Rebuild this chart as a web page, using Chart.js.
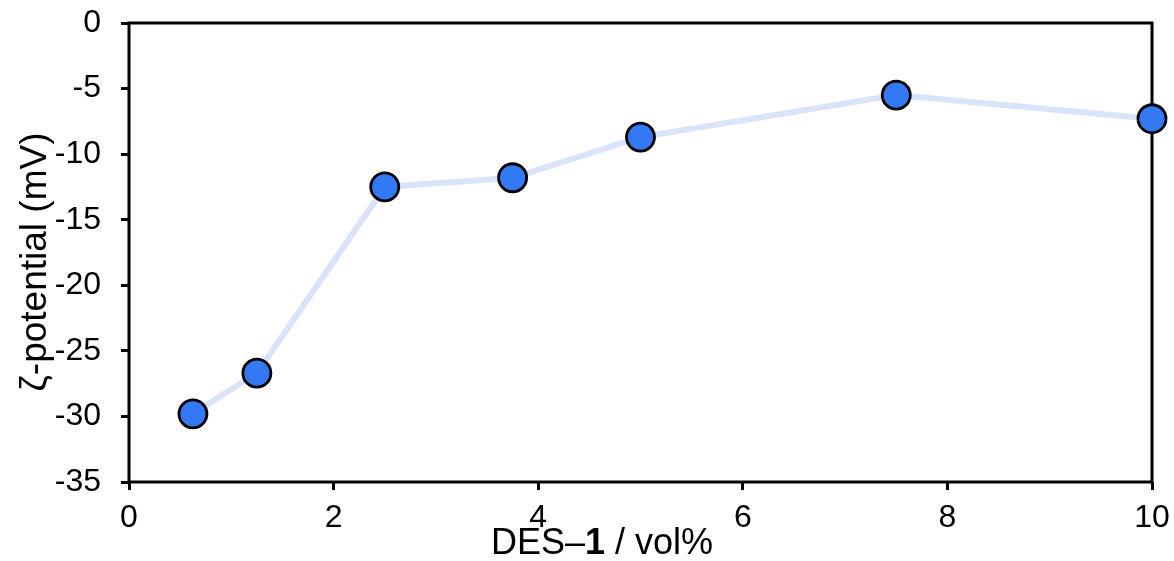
<!DOCTYPE html>
<html lang="en">
<head>
    <meta charset="UTF-8">
    <title>zeta potential vs DES-1</title>
    <script src="https://cdn.jsdelivr.net/npm/chart.js"></script>
    <style>
        html, body {
            margin: 0;
            padding: 0;
            background: #fff;
        }
        .wrap {
            width: 1174px;
            height: 561px;
        }
    </style>
</head>
<body>
    <div class="wrap">
        <canvas id="zetaChart" width="1174" height="561"></canvas>
    </div>

    <script>
        // data
        const desVol = [0.625, 1.25, 2.5, 3.75, 5, 7.5, 10];
        const zetaMv = [-29.8, -26.7, -12.5, -11.8, -8.7, -5.5, -7.3];
        const xTicks = [0, 2, 4, 6, 8, 10];
        const yTicks = [0, -5, -10, -15, -20, -25, -30, -35];

        const points = desVol.map((x, i) => ({ x: x, y: zetaMv[i] }));
        const FONT = '"Liberation Sans", Arial, sans-serif';

        // stop chart.js from adding room for the edge tick labels
        function noEdgePadding(scale) {
            scale.paddingTop = 0;
            scale.paddingBottom = 0;
            scale.paddingLeft = 0;
            scale.paddingRight = 0;
        }

        // box around plot + axis titles (x title has a bold "1")
        const framePlugin = {
            id: 'frame',
            beforeDatasetsDraw(chart) {
                const { ctx, chartArea: a } = chart;
                ctx.save();
                ctx.strokeStyle = '#000';
                ctx.lineWidth = 3;
                ctx.strokeRect(a.left, a.top, a.right - a.left, a.bottom - a.top);
                ctx.restore();
            },
            afterDraw(chart) {
                const { ctx } = chart;
                ctx.save();
                ctx.fillStyle = '#000';
                ctx.textBaseline = 'alphabetic';

                // x title
                const parts = [
                    { t: 'DES\u2013', f: '36px ' + FONT },
                    { t: '1', f: 'bold 36px ' + FONT },
                    { t: ' / vol%', f: '36px ' + FONT }
                ];
                let total = 0;
                parts.forEach(p => { ctx.font = p.f; p.w = ctx.measureText(p.t).width; total += p.w; });
                let x = 602 - total / 2;
                parts.forEach(p => {
                    ctx.font = p.f;
                    ctx.textAlign = 'left';
                    ctx.fillText(p.t, x, 554);
                    x += p.w;
                });

                // y title
                ctx.translate(46, 262);
                ctx.rotate(-Math.PI / 2);
                ctx.font = '37px ' + FONT;
                ctx.textAlign = 'center';
                ctx.fillText('\u03B6-potential (mV)', 0, 0);
                ctx.restore();
            }
        };

        const ctx = document.getElementById('zetaChart').getContext('2d');
        new Chart(ctx, {
            type: 'scatter',
            data: {
                datasets: [{
                    data: points,
                    showLine: true,
                    clip: false,
                    borderColor: '#dae3fa',
                    borderWidth: 6,
                    pointRadius: 14,
                    pointHoverRadius: 14,
                    pointBackgroundColor: '#3479f4',
                    pointBorderColor: '#000',
                    pointBorderWidth: 2.8
                }]
            },
            options: {
                responsive: false,
                animation: false,
                layout: {
                    padding: { left: 0, right: 22, top: 23, bottom: 0 }
                },
                plugins: {
                    legend: { display: false },
                    tooltip: { enabled: false }
                },
                scales: {
                    x: {
                        type: 'linear',
                        min: 0,
                        max: 10,
                        afterFit(scale) { scale.height = 79; noEdgePadding(scale); },
                        afterBuildTicks(scale) { scale.ticks = xTicks.map(v => ({ value: v })); },
                        border: { display: false },
                        grid: {
                            drawOnChartArea: false,
                            drawTicks: true,
                            tickLength: 8,
                            tickWidth: 3,
                            tickColor: '#000'
                        },
                        ticks: {
                            color: '#000',
                            padding: 9,
                            maxRotation: 0,
                            autoSkip: false,
                            font: { family: FONT, size: 32 }
                        }
                    },
                    y: {
                        type: 'linear',
                        min: -35,
                        max: 0,
                        afterFit(scale) { scale.width = 129; noEdgePadding(scale); },
                        afterBuildTicks(scale) { scale.ticks = yTicks.slice().reverse().map(v => ({ value: v })); },
                        border: { display: false },
                        grid: {
                            drawOnChartArea: false,
                            drawTicks: true,
                            tickLength: 8,
                            tickWidth: 3,
                            tickColor: '#000'
                        },
                        ticks: {
                            color: '#000',
                            padding: 20,
                            autoSkip: false,
                            font: { family: FONT, size: 32 }
                        }
                    }
                }
            },
            plugins: [framePlugin]
        });
    </script>
</body>
</html>
